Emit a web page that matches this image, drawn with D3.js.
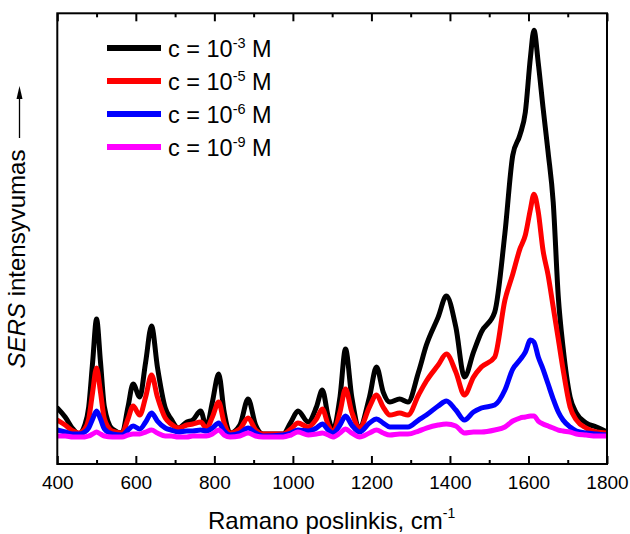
<!DOCTYPE html>
<html>
<head>
<meta charset="utf-8">
<script src="https://cdn.jsdelivr.net/npm/d3@7"></script>
<style>
  html, body { margin: 0; padding: 0; background: #fff; }
  svg { display: block; }
  text { font-family: "Liberation Sans", Arial, sans-serif; fill: #000; }
</style>
</head>
<body>
<svg id="chart" width="630" height="534"></svg>
<script>
// ---- data (Raman shift, cm-1) ----
const wavenumbers = [400,420,440,455,470,480,490,500,510,520,540,565,580,593,610,625,640,655,675,690,708,730,745,765,780,795,811,825,840,865,886,905,924,975,995,1013,1039,1060,1075,1090,1102,1120,1134,1150,1170,1195,1213,1230,1247,1272,1293,1320,1340,1370,1391,1415,1437,1460,1480,1514,1540,1560,1578,1592,1605,1614,1625,1637,1650,1663,1676,1688,1706,1722,1747,1773,1800];

// SERS intensity (arbitrary units) for each concentration
const conc1e3 = [29,20,8,3,12,30,75,118,75,30,8,4,30,53,40,75,111,70,29,18,9,15,17,26,10,35,63,25,4,12,38,12,3,3,15,26,15,30,47,20,7,40,88,40,10,40,70,45,35,38,35,65,92,120,141,110,60,85,105,125,204,282,302,325,380,407,374,330,285,235,140,90,40,24,14,10,5];
const conc1e5 = [17,12,6,4,8,18,45,69,45,18,6,4,18,31,22,40,62,40,19,13,9,12,13,15,9,20,35,14,4,8,19,7,3,3,8,14,10,18,28,12,5,25,48,25,9,30,42,30,22,24,22,42,56,72,83,65,42,60,70,80,137,163,188,202,228,243,225,187,162,130,98,68,30,17,9,5,4];
const conc1e6 = [7,5,3,3,5,9,18,26,18,8,3,2,7,11,8,15,24,16,9,7,5,6,6,7,6,9,14,6,2,4,9,4,1,2,4,7,6,9,13,7,4,12,21,12,5,14,18,14,10,10,10,17,22,31,36,27,17,25,29,32,47,68,77,85,97,95,80,68,53,38,25,17,10,6,4,3,2];
const conc1e9 = [1,1,0,0,0,1,3,5,3,1,0,0,2,3,3,5,7,4,1,1,0,0,1,1,1,3,7,2,0,1,4,1,0,0,2,5,2,3,4,2,0,4,8,4,0,4,7,4,2,3,3,6,9,12,13,11,4,5,5,7,10,16,19,20,21,21,16,13,11,9,7,6,5,3,2,1,1];

const seriesNames = ["c = 10", "c = 10", "c = 10", "c = 10"];
const seriesExponents = ["-3", "-5", "-6", "-9"];
const seriesColors = ["#000000", "#ff0000", "#0000ff", "#ff00ff"];

const xMajorTicks = [400,600,800,1000,1200,1400,1600,1800];
const xMinorTicks = [500,700,900,1100,1300,1500,1700];

// ---- layout ----
const mLeft = 57.3, mRight = 607, mTop = 13.3, mBottom = 464;
const svg = d3.select("#chart");

const x = d3.scaleLinear().domain([400, 1800]).range([mLeft, mRight]);
const y = d3.scaleLinear().domain([-27, 424]).range([mBottom, mTop]);

// clip
svg.append("defs").append("clipPath").attr("id", "clip")
  .append("rect").attr("x", mLeft).attr("y", mTop).attr("width", mRight - mLeft).attr("height", mBottom - mTop);

// series lines
const allSeries = [conc1e3, conc1e5, conc1e6, conc1e9];
const line = d3.line()
  .x((d, i) => x(wavenumbers[i]))
  .y(d => y(d))
  .curve(d3.curveMonotoneX);

const gLines = svg.append("g").attr("clip-path", "url(#clip)");
allSeries.forEach((s, k) => {
  gLines.append("path")
    .datum(s)
    .attr("d", line)
    .attr("fill", "none")
    .attr("stroke", seriesColors[k])
    .attr("stroke-width", 5)
    .attr("stroke-linejoin", "round")
    .attr("stroke-linecap", "round");
});

// axes
const axB = svg.append("g").attr("transform", `translate(0,${mBottom})`)
  .call(d3.axisBottom(x).tickValues(xMajorTicks).tickSize(-8).tickPadding(12).tickFormat(d3.format("d")));
const axBm = svg.append("g").attr("transform", `translate(0,${mBottom})`)
  .call(d3.axisBottom(x).tickValues(xMinorTicks).tickSize(-4).tickFormat(""));
const axT = svg.append("g").attr("transform", `translate(0,${mTop})`)
  .call(d3.axisTop(x).tickValues(xMajorTicks).tickSize(-8).tickFormat(""));
const axTm = svg.append("g").attr("transform", `translate(0,${mTop})`)
  .call(d3.axisTop(x).tickValues(xMinorTicks).tickSize(-4).tickFormat(""));
[axB, axBm, axT, axTm].forEach(g => {
  g.select(".domain").remove();
  g.selectAll(".tick line").attr("stroke", "#000").attr("stroke-width", 2);
});
axB.selectAll(".tick text")
  .style("font-family", '"Liberation Sans", Arial, sans-serif')
  .style("font-size", "19px")
  .attr("fill", "#000");

// frame
svg.append("rect")
  .attr("x", mLeft).attr("y", mTop)
  .attr("width", mRight - mLeft).attr("height", mBottom - mTop)
  .attr("fill", "none").attr("stroke", "#000").attr("stroke-width", 2);

// x-axis title
const xt = svg.append("text").attr("x", 208).attr("y", 529)
  .style("font-size", "24px");
xt.append("tspan").text("Ramano poslinkis, cm");
xt.append("tspan").attr("dy", -11).style("font-size", "14px").text("-1");

// y-axis title
const yt = svg.append("text")
  .attr("transform", "translate(25,259) rotate(-90)")
  .attr("text-anchor", "middle")
  .style("font-size", "24px");
yt.append("tspan").style("font-style", "italic").text("SERS");
yt.append("tspan").text(" intensyvumas");

// arrow
svg.append("line").attr("x1", 19.5).attr("x2", 19.5).attr("y1", 138).attr("y2", 96)
  .attr("stroke", "#000").attr("stroke-width", 1.3);
svg.append("path").attr("d", "M19.5,86 L16.5,99 L22.5,99 Z").attr("fill", "#000");

// legend
const legendY = [48, 81, 114, 147];
const lg = svg.append("g");
seriesNames.forEach((name, k) => {
  lg.append("line")
    .attr("x1", 107).attr("x2", 161)
    .attr("y1", legendY[k]).attr("y2", legendY[k])
    .attr("stroke", seriesColors[k]).attr("stroke-width", 6);
  const t = lg.append("text").attr("x", 168).attr("y", legendY[k] + 8.5)
    .style("font-size", "23.5px");
  t.append("tspan").text(name);
  t.append("tspan").attr("dy", -8.5).style("font-size", "14.5px").text(seriesExponents[k]);
  t.append("tspan").attr("dy", 8.5).text(" M");
});
</script>
</body>
</html>
